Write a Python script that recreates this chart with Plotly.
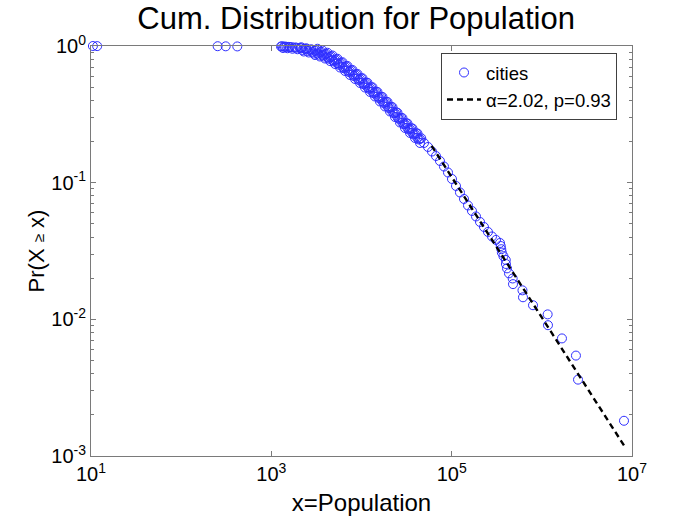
import plotly.graph_objects as go

# ---- data (population, Pr(X >= x)) ----
outlier_pop = [10.5, 11.7, 254, 312, 419]
outlier_prob = [1.0, 0.9982, 0.9964, 0.9946, 0.9928]

top_pop = [1310, 1380, 1470, 1560, 1700, 1900, 2150, 2450]
top_prob = [0.995, 0.990, 0.987, 0.985, 0.979, 0.972, 0.962, 0.948]

body_pop = [1280, 1417, 1610, 1830, 2079, 2362, 2683, 3050, 3464, 3938, 4473, 5082,
            5774, 6561, 7454, 8470, 9620, 10930, 12420, 14110, 16030, 18220, 20700,
            23520, 26720, 30360, 34490, 39200, 44530, 49320, 54620, 60490, 67000,
            74200, 82180, 91040, 100800, 111700, 123600, 137000, 151700, 168000,
            186100, 206100, 228200, 252800, 280100, 310100, 343500]
body_prob = [0.9916, 0.9890, 0.9833, 0.975, 0.9669, 0.9507, 0.9349, 0.9193, 0.8962,
             0.8666, 0.8309, 0.790, 0.7449, 0.7022, 0.6564, 0.6136, 0.5735, 0.5317,
             0.4930, 0.4569, 0.4200, 0.3861, 0.3549, 0.3235, 0.2948, 0.2688, 0.2471,
             0.2272, 0.2088, 0.1952, 0.1825, 0.1691, 0.1567, 0.1441, 0.1313, 0.1187,
             0.1064, 0.0946, 0.0848, 0.0760, 0.0681, 0.0621, 0.0566, 0.0516, 0.0474,
             0.0436, 0.0404, 0.0381, 0.0362]

band_pop = [1347, 1510, 1716, 1950, 2216, 2517, 2861, 3250, 3693, 4197, 4768, 5417,
            6155, 6993, 7946, 9027, 10250, 11650, 13240, 15040, 17090, 19420, 22060,
            25070, 28480, 32360, 36770, 41780]
band_prob = [0.9669, 0.963, 0.9547, 0.9468, 0.9349, 0.9193, 0.904, 0.8851, 0.8594,
             0.8274, 0.790, 0.748, 0.7052, 0.662, 0.6188, 0.5784, 0.5385, 0.4992,
             0.4627, 0.4271, 0.3926, 0.3609, 0.3304, 0.3011, 0.2745, 0.2513, 0.2310,
             0.2123]

upper_pop = [3250, 3693, 4197, 4768, 5417, 6155, 6993, 7946, 9027, 10250, 11650, 13240,
             15040, 17090, 19420, 22060, 25070, 28480, 32360, 36770, 41780]
upper_prob = [0.9548, 0.9270, 0.8925, 0.8522, 0.8069, 0.7607, 0.7141, 0.6675, 0.6239,
              0.5809, 0.5385, 0.4991, 0.4607, 0.4235, 0.3893, 0.3564, 0.3248, 0.2961,
              0.2711, 0.2492, 0.2290]

lower_pop = [3050, 3464, 3938, 4473, 5082, 5774, 6561, 7454, 8470, 9620, 10930, 12420,
             14110, 16030, 18220, 20700, 23520, 26720, 30360, 34490, 39200, 44530]
lower_prob = [0.8595, 0.8379, 0.8102, 0.7768, 0.7386, 0.6964, 0.6565, 0.6137, 0.5737,
              0.5362, 0.4971, 0.4609, 0.4272, 0.3927, 0.3610, 0.3318, 0.3024, 0.2756,
              0.2513, 0.2310, 0.2124, 0.1952]

inner_a_pop = [2146, 2438, 2770, 3149, 3576, 4066, 4618, 5247, 5961, 6774, 7695, 8744,
               9932, 11280, 12820, 14570, 16550, 18810, 21370, 24280, 27590, 31340,
               35610, 40470, 45970]
inner_a_prob = [0.979, 0.9629, 0.9469, 0.9311, 0.9077, 0.8777, 0.8415, 0.8001, 0.7544,
                0.7112, 0.6648, 0.6215, 0.5808, 0.5385, 0.4993, 0.4627, 0.4254, 0.3910,
                0.3594, 0.3276, 0.2986, 0.2722, 0.2503, 0.2301, 0.2115]

inner_b_pop = [2288, 2599, 2954, 3355, 3813, 4333, 4922, 5593, 6354, 7220, 8203, 9320,
               10580, 12030, 13670, 15530, 17640, 20050, 22770, 25880, 29400, 33410,
               37960, 43130]
inner_b_prob = [0.9115, 0.8963, 0.8814, 0.863, 0.8379, 0.8067, 0.7703, 0.7293, 0.6876,
                0.6455, 0.6033, 0.5639, 0.525, 0.4867, 0.4511, 0.4164, 0.3828, 0.3519,
                0.3221, 0.2936, 0.2676, 0.245, 0.2252, 0.207]

tail_pop = [8.15e6, 2.52e6, 2.39e6, 1.672e6, 1.17e6, 1.16e6, 7.98e5, 6.18e5, 6.1e5,
            4.79e5, 4.75e5, 4.32e5, 4.11e5, 4.0e5, 3.98e5, 3.75e5, 3.6e5, 3.55e5, 3.5e5]
tail_prob = [0.00181, 0.00362, 0.00543, 0.00725, 0.00906, 0.01087, 0.01268, 0.0145,
             0.0163, 0.0181, 0.0199, 0.0217, 0.0236, 0.0254, 0.0272, 0.0290, 0.0308,
             0.0326, 0.0344]

fit_x = [6.0e4, 8.6e6]
fit_y = [0.186, 0.00113]

x_tick_vals = [1e1, 1e3, 1e5, 1e7]
x_tick_text = ["10<sup>1</sup>", "10<sup>3</sup>", "10<sup>5</sup>", "10<sup>7</sup>"]
y_tick_vals = [1e-3, 1e-2, 1e-1, 1e0]
y_tick_text = ["10<sup>-3</sup>", "10<sup>-2</sup>", "10<sup>-1</sup>", "10<sup>0</sup>"]

city_x = (outlier_pop + top_pop + body_pop + band_pop + upper_pop + lower_pop
          + inner_a_pop + inner_b_pop + tail_pop)
city_y = (outlier_prob + top_prob + body_prob + band_prob + upper_prob + lower_prob
          + inner_a_prob + inner_b_prob + tail_prob)

minor_y = [m * 10.0 ** e for e in (-3, -2, -1) for m in range(2, 10)]

FONT = "Liberation Sans, Arial, Helvetica, sans-serif"
AXIS_COLOR = "#7a7a7a"
BLUE = "#2f2fff"

fig = go.Figure()
fig.add_trace(go.Scatter(
    x=city_x, y=city_y, mode="markers", name="cities",
    marker=dict(symbol="circle-open", size=9, color=BLUE, line=dict(width=1, color=BLUE)),
    cliponaxis=False,
))
fig.add_trace(go.Scatter(
    x=fit_x, y=fit_y, mode="lines", name="\u03b1=2.02, p=0.93",
    line=dict(color="black", width=2.4, dash="6px,4px"),
))

fig.update_layout(
    width=698, height=523,
    margin=dict(l=91, r=66, t=46, b=67, autoexpand=False),
    paper_bgcolor="white", plot_bgcolor="white",
    font=dict(family=FONT, color="black"),
    title=dict(text="Cum. Distribution for Population", x=0.49, xref="paper", xanchor="center",
               y=0.965, yref="container", yanchor="middle", font=dict(size=31, family=FONT)),
    showlegend=True,
    legend=dict(x=0.647, y=0.983, xanchor="left", yanchor="top", bgcolor="white",
                bordercolor="#404040", borderwidth=1, font=dict(size=18.5, family=FONT),
                tracegroupgap=0, itemwidth=34),
)
fig.update_xaxes(
    type="log", range=[1, 7], tickmode="array", tickvals=x_tick_vals, ticktext=x_tick_text,
    ticks="inside", ticklen=5, tickcolor=AXIS_COLOR, showline=True, linecolor=AXIS_COLOR,
    linewidth=1, mirror="ticks", showgrid=False, zeroline=False, automargin=False,
    tickfont=dict(size=20, family=FONT),
    title=dict(text="x=Population", font=dict(size=24, family=FONT), standoff=10),
)
fig.update_yaxes(
    type="log", range=[-3, 0], tickmode="array", tickvals=y_tick_vals, ticktext=y_tick_text,
    ticks="inside", ticklen=5, tickcolor=AXIS_COLOR, showline=True, linecolor=AXIS_COLOR,
    linewidth=1, mirror="ticks", showgrid=False, zeroline=False, automargin=False,
    tickfont=dict(size=20, family=FONT),
    minor=dict(tickmode="array", tickvals=minor_y, ticks="inside", ticklen=3,
               tickcolor=AXIS_COLOR, showgrid=False),
    title=dict(text="Pr(X <span style='font-size:15px'>\u2265</span> x)",
               font=dict(size=22, family=FONT), standoff=0),
)

fig.write_html("out.html", config={"displayModeBar": False},
               post_script="document.body.style.margin='0';")
